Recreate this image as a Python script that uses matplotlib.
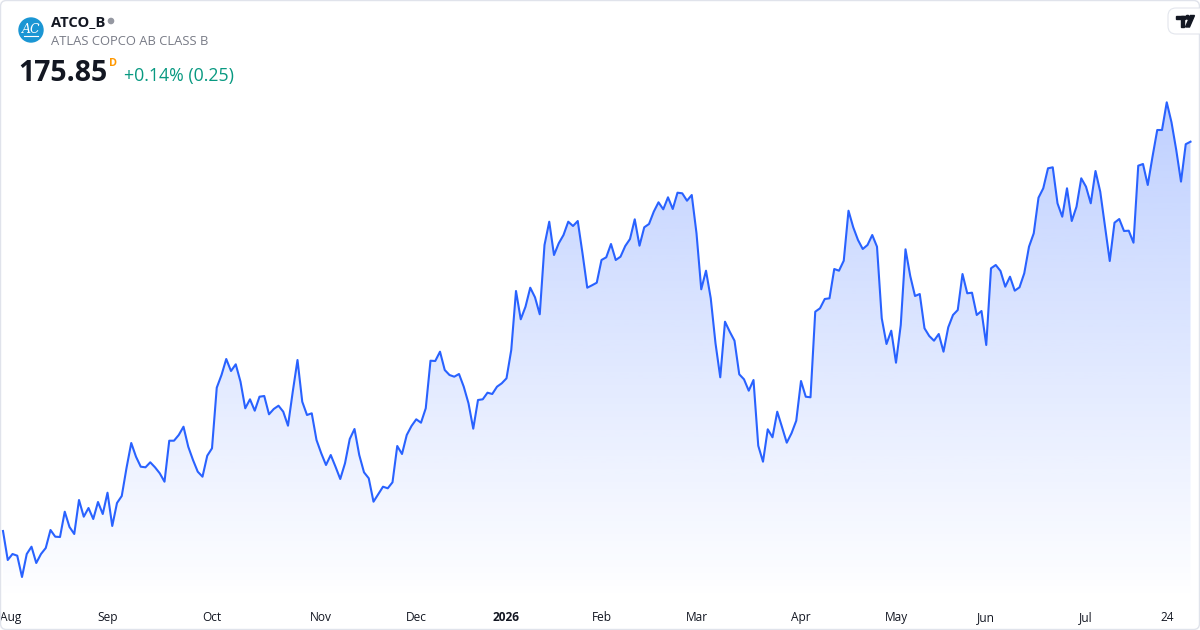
import numpy as np
import matplotlib
matplotlib.use("Agg")
import matplotlib.pyplot as plt
from matplotlib.patches import FancyBboxPatch, Circle, Polygon, Rectangle
from matplotlib.transforms import blended_transform_factory

# ---------------- data ----------------
prices = [
    136.92, 134.02, 134.62, 134.45, 132.32, 134.62, 135.35, 133.72, 134.62, 135.22,
    137.02, 136.35, 136.32, 138.85, 137.32, 136.62, 140.02, 138.35, 139.22, 138.12,
    139.82, 138.62, 140.75, 137.42, 139.72, 140.42, 143.22, 145.72, 144.35, 143.35,
    143.29, 143.79, 143.29, 142.69, 141.85, 145.95, 145.95, 146.52, 147.35, 145.35,
    144.02, 142.85, 142.35, 144.45, 145.19, 151.25, 152.52, 154.12, 152.92, 153.59,
    151.85, 149.19, 150.09, 148.95, 150.35, 150.42, 148.59, 149.12, 149.45, 148.85,
    147.45, 150.85, 154.02, 149.85, 148.52, 148.69, 146.02, 144.69, 143.52, 144.52,
    143.35, 142.12, 143.69, 146.12, 147.12, 144.52, 142.79, 142.19, 139.85, 140.59,
    141.35, 141.19, 141.79, 145.42, 144.62, 146.52, 147.42, 148.09, 147.75, 149.19,
    153.95, 153.92, 154.85, 153.02, 152.52, 152.35, 152.62, 151.35, 149.69, 147.15,
    150.02, 150.09, 150.75, 150.62, 151.35, 151.69, 152.19, 155.02, 160.92, 158.09,
    159.35, 161.25, 160.29, 158.59, 165.52, 167.85, 164.52, 165.69, 166.52, 167.85,
    167.42, 167.92, 164.69, 161.25, 161.49, 161.75, 164.02, 164.29, 165.62, 164.02,
    164.35, 165.42, 166.12, 168.09, 165.45, 167.29, 167.62, 168.85, 169.79, 169.09,
    170.29, 169.12, 170.75, 170.69, 169.95, 170.52, 166.69, 161.09, 162.95, 160.19,
    155.69, 152.29, 157.85, 156.85, 155.95, 152.59, 152.09, 150.95, 152.02, 145.45,
    143.85, 147.09, 146.29, 148.85, 147.32, 145.75, 146.69, 147.95, 151.92, 150.35,
    150.29, 158.85, 159.19, 160.12, 160.19, 163.12, 162.95, 163.95, 168.95, 167.29,
    166.02, 165.12, 165.52, 166.52, 165.35, 158.19, 155.62, 156.95, 153.75, 157.52,
    165.09, 162.42, 160.42, 160.62, 157.19, 156.42, 155.95, 156.62, 154.85, 157.29,
    158.52, 159.02, 162.62, 160.69, 160.75, 158.52, 158.92, 155.52, 163.19, 163.52,
    162.92, 161.35, 162.35, 160.95, 161.29, 162.69, 165.35, 166.69, 170.25, 171.19,
    173.19, 173.29, 169.69, 168.35, 171.19, 167.92, 169.35, 172.19, 171.35, 169.69,
    172.92, 170.85, 167.35, 163.92, 167.75, 168.12, 166.92, 166.95, 165.75, 173.45,
    173.62, 171.52, 174.35, 177.02, 177.02, 179.79, 177.79, 175.02, 171.86, 175.60,
    175.85,
]
tick_index = [1, 22, 44, 67, 87, 106, 126, 146, 168, 188, 207, 228, 245]
tick_labels = ["Aug", "Sep", "Oct", "Nov", "Dec", "2026", "Feb", "Mar",
               "Apr", "May", "Jun", "Jul", "24"]
tick_bold = ["2026"]
symbol = "ATCO_B"
company = "ATLAS COPCO AB CLASS B"
last_price = "175.85"
change_text = "+0.14% (0.25)"

# ---------------- style ----------------
FONT = ["Open Sans", "DejaVu Sans"]
plt.rcParams["font.family"] = FONT
LINE = "#2962ff"
W, H = 1200, 630

fig = plt.figure(figsize=(12, 6.3), dpi=100)
fig.patch.set_facecolor("white")

ax = fig.add_axes([0, 0, 1, 1])
ax.set_facecolor("none")
x = np.arange(len(prices))
y = np.array(prices)

base = 130.02
top = y.max()
n = 256
rgba = np.zeros((n, 1, 4))
rgba[..., 0] = 41 / 255
rgba[..., 1] = 98 / 255
rgba[..., 2] = 1.0
rgba[:, 0, 3] = np.linspace(0.30, 0.0, n)
im = ax.imshow(rgba, extent=[x[0], x[-1], base, top], aspect="auto",
               origin="upper", interpolation="bilinear", zorder=1)
verts = np.vstack([np.column_stack([x, y]), [[x[-1], base], [x[0], base]]])
clip = Polygon(verts, closed=True, transform=ax.transData,
               facecolor="none", edgecolor="none")
ax.add_patch(clip)
im.set_clip_path(clip)
ax.plot(x, y, color=LINE, lw=1.5, zorder=3, solid_joinstyle="round")

step, x0 = 4.75, 3.0
ax.set_xlim(-x0 / step, (W - x0) / step)
ax.set_ylim(127.02, 190.02)
ax.axis("off")

tr = blended_transform_factory(ax.transData, fig.transFigure)
for i, (idx, lab) in enumerate(zip(tick_index, tick_labels)):
    ha = "left" if i == 0 else "center"
    xx = ax.get_xlim()[0] if i == 0 else idx
    ax.text(xx, 1 - 617.5 / H, lab, transform=tr, ha=ha, va="center",
            fontsize=8.6, color="#131722",
            fontweight="bold" if lab in tick_bold else "normal")

# ---------------- overlay (pixel coords) ----------------
ov = fig.add_axes([0, 0, 1, 1])
ov.set_xlim(0, W)
ov.set_ylim(H, 0)
ov.axis("off")
ov.patch.set_alpha(0)

ov.add_patch(FancyBboxPatch((0.5, 0.5), W - 1, H - 1,
                            boxstyle="round,pad=0,rounding_size=6",
                            ec="#e0e3eb", fc="none", lw=1))

# company logo
ov.add_patch(Circle((31, 30), 12, color="#1a96d4"))
ov.text(31, 29.5, "AC", ha="center", va="center", color="white",
        fontsize=9, style="italic", family=["DejaVu Serif"])
ov.plot([24, 38], [35.5, 35.5], color="white", lw=0.8)

ov.text(51, 26, symbol, ha="left", va="baseline", fontsize=10.6,
        fontweight="bold", color="#131722")
ov.add_patch(Circle((111, 21), 2.6, color="#9598a1"))
ov.text(51, 45, company, ha="left", va="baseline", fontsize=9.4,
        color="#787b86")
ov.text(18.5, 81, last_price, ha="left", va="baseline", fontsize=20.4,
        fontweight="bold", color="#131722")
ov.text(109, 66, "D", ha="left", va="baseline", fontsize=7.8,
        fontweight="bold", color="#ff9800")
ov.text(124, 81, change_text, ha="left", va="baseline", fontsize=12.8,
        color="#089981")

# TradingView badge
ov.add_patch(FancyBboxPatch((1168, 8), 40, 26,
                            boxstyle="round,pad=0,rounding_size=8",
                            ec="#e0e3eb", fc="white", lw=0.8, alpha=0.9))
ov.add_patch(Rectangle((1176, 15.5), 8.5, 3.5, color="#131722"))
ov.add_patch(Rectangle((1180.8, 15.5), 3.6, 11.5, color="#131722"))
ov.add_patch(Circle((1187.6, 17.3), 1.9, color="#131722"))
ov.add_patch(Polygon([(1190.5, 15.5), (1194.5, 15.5), (1189.5, 27), (1185.5, 27)],
                     closed=True, color="#131722"))

fig.savefig("out.png", dpi=100, facecolor="white")
